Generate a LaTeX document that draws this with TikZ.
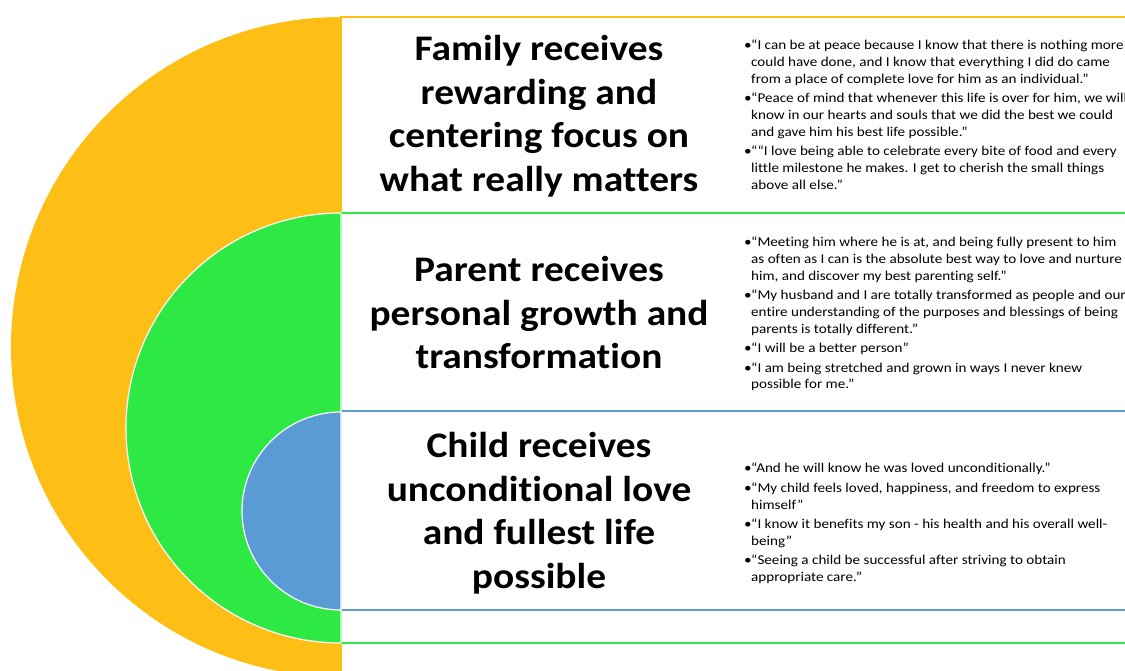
\documentclass[tikz,border=0pt]{standalone}
\usepackage{fontspec}
\setmainfont{Carlito}
\newfontfamily\headfont[FakeStretch=1.095, Ligatures=NoCommon]{Carlito}
\newfontfamily\quotefont[FakeStretch=1.12, Ligatures=NoCommon]{Carlito}
\definecolor{ringorange}{RGB}{253,190,22}
\definecolor{ringgreen}{RGB}{46,232,68}
\definecolor{ringblue}{RGB}{91,155,213}
% bullet and hanging indent for quote lines
\newcommand{\qfirst}{\makebox[7pt][l]{•}}
\newcommand{\qnext}{\hspace*{7pt}}
\tikzset{
  heading/.style={font=\headfont\fontsize{36}{43.5}\selectfont\bfseries, align=center, inner sep=0pt},
  quotes/.style={font=\quotefont\fontsize{13.5}{16.7}\selectfont, align=left, anchor=north west, inner sep=0pt},
  band/.style={line width=1.4pt, fill=white},
  disc/.style={draw=white, line width=1.2pt}
}
\begin{document}
\begin{tikzpicture}[x=1pt,y=1pt]
\useasboundingbox (0,0) rectangle (1125,671);
\clip (0,0) rectangle (1125,671);
\fill[white] (0,0) rectangle (1125,671);
% outer ring: family
\fill[ringorange] (341,654) arc[start angle=90, end angle=270, radius=330] -- cycle;
% bands behind the text
\draw[band, draw=ringorange] (341,-20) rectangle (1140,654);
\draw[band, draw=ringgreen] (341,28) rectangle (1140,458);
\draw[band, draw=ringblue] (341,61) rectangle (1140,260);
% middle ring: parent
\filldraw[disc, fill=ringgreen] (341,458) arc[start angle=90, end angle=270, radius=215] -- cycle;
% inner ring: child
\filldraw[disc, fill=ringblue] (341,259) arc[start angle=90, end angle=270, radius=99] -- cycle;
% headings
\node[heading] (famh) at (539,555) {Family receives\\rewarding and\\centering focus on\\what really matters};
\node[heading] (parh) at (539,358) {Parent receives\\personal growth and\\transformation};
\node[heading] (chih) at (539,158) {Child receives\\unconditional love\\and fullest life\\possible};
% quotes
\node[quotes] (famq) at (744,631) {%
\qfirst “I can be at peace because I know that there is nothing more\\
\qnext could have done, and I know that everything I did do came\\
\qnext from a place of complete love for him as an individual.”\\[2.8pt]
\qfirst “Peace of mind that whenever this life is over for him, we will\\
\qnext know in our hearts and souls that we did the best we could\\
\qnext and gave him his best life possible.”\\[2.8pt]
\qfirst ““I love being able to celebrate every bite of food and every\\
\qnext little milestone he makes. I get to cherish the small things\\
\qnext above all else.”};
\node[quotes] (parq) at (744,434) {%
\qfirst “Meeting him where he is at, and being fully present to him\\
\qnext as often as I can is the absolute best way to love and nurture\\
\qnext him, and discover my best parenting self.”\\[2.8pt]
\qfirst “My husband and I are totally transformed as people and our\\
\qnext entire understanding of the purposes and blessings of being\\
\qnext parents is totally different.”\\[2.8pt]
\qfirst “I will be a better person”\\[2.8pt]
\qfirst “I am being stretched and grown in ways I never knew\\
\qnext possible for me.”};
\node[quotes] (chiq) at (744,208) {%
\qfirst “And he will know he was loved unconditionally.”\\[2.8pt]
\qfirst “My child feels loved, happiness, and freedom to express\\
\qnext himself”\\[2.8pt]
\qfirst “I know it benefits my son - his health and his overall well-\\
\qnext being”\\[2.8pt]
\qfirst “Seeing a child be successful after striving to obtain\\
\qnext appropriate care.”};
\end{tikzpicture}
\end{document}
